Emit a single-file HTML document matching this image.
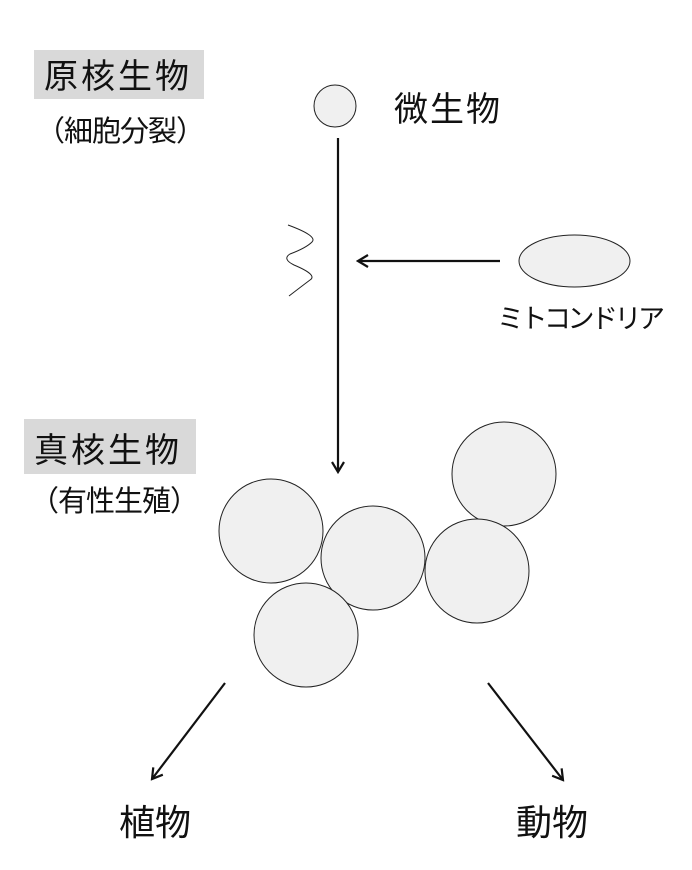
<!DOCTYPE html>
<html><head><meta charset="utf-8"><style>
html,body{margin:0;padding:0;background:#fff;width:692px;height:870px;overflow:hidden}
svg text{font-family:"Liberation Sans","Noto Sans CJK JP",sans-serif;fill:#111}
</style></head><body>
<svg width="692" height="870" viewBox="0 0 692 870" xmlns="http://www.w3.org/2000/svg">
<defs>
<marker id="a" markerWidth="14" markerHeight="14" refX="12" refY="7" orient="auto" markerUnits="userSpaceOnUse">
<path d="M2,1 L12,7 L2,13" fill="none" stroke="#111" stroke-width="2.2"/>
</marker>
</defs>
<rect x="34" y="50" width="170" height="49" fill="#d9d9d9"/>
<text x="44" y="88" font-size="34" letter-spacing="3">原核生物</text>
<text x="36" y="141" font-size="29" letter-spacing="-1">（細胞分裂）</text>
<rect x="24" y="419" width="172" height="55" fill="#d9d9d9"/>
<text x="34" y="462" font-size="34" letter-spacing="3">真核生物</text>
<text x="30" y="511" font-size="29" letter-spacing="-1">（有性生殖）</text>

<circle cx="335" cy="106" r="21" fill="#f0f0f0" stroke="#222" stroke-width="1"/>
<text x="394" y="121" font-size="34" letter-spacing="2">微生物</text>

<line x1="338" y1="138" x2="338" y2="472" stroke="#111" stroke-width="2.2" marker-end="url(#a)"/>
<path d="M288,225 Q318,236 312,242 Q306,248 290,254 Q282,259 294,265 Q318,275 310,280 Q302,286 289,296" fill="none" stroke="#222" stroke-width="1"/>
<line x1="500" y1="261" x2="358" y2="261" stroke="#111" stroke-width="2.2" marker-end="url(#a)"/>
<ellipse cx="574.5" cy="261" rx="55.5" ry="26" fill="#f0f0f0" stroke="#222" stroke-width="1"/>
<text x="497" y="328" font-size="27" letter-spacing="-3.5">ミトコンドリア</text>

<g fill="#f0f0f0" stroke="#222" stroke-width="1">
<circle cx="271" cy="531" r="52"/>
<circle cx="373" cy="558" r="52"/>
<circle cx="306" cy="635" r="52"/>
<circle cx="504" cy="474" r="52"/>
<circle cx="477" cy="571" r="52"/>
</g>

<line x1="225" y1="683" x2="152" y2="779" stroke="#111" stroke-width="2.2" marker-end="url(#a)"/>
<line x1="488" y1="683" x2="563" y2="780" stroke="#111" stroke-width="2.2" marker-end="url(#a)"/>
<text x="119" y="835" font-size="36">植物</text>
<text x="516" y="835" font-size="36">動物</text>
</svg>
</body></html>
